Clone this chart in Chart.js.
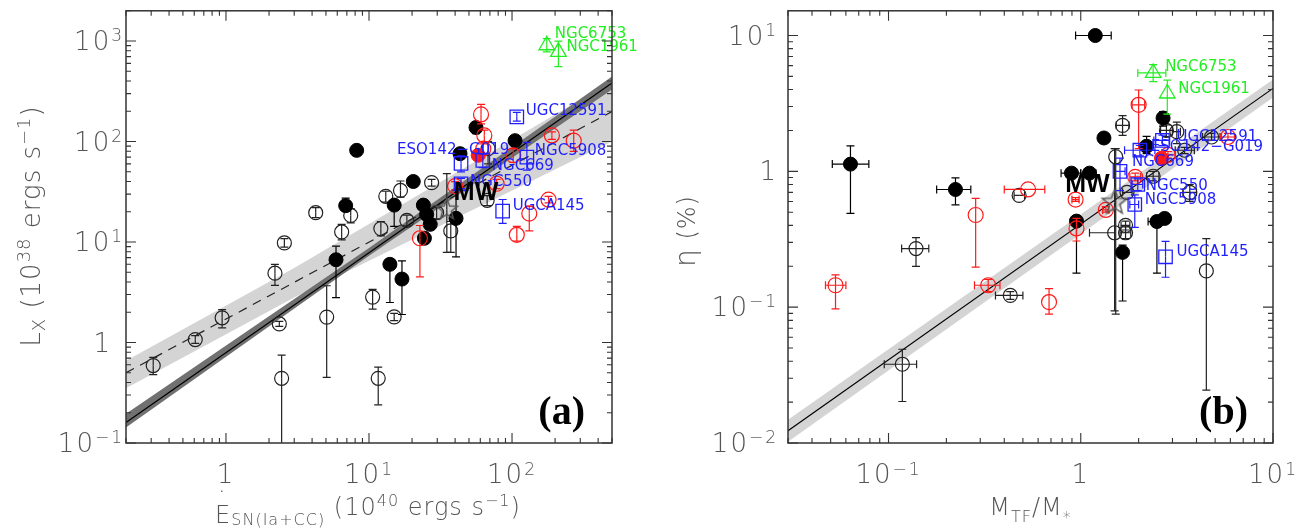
<!DOCTYPE html>
<html>
<head>
<meta charset="utf-8">
<script src="https://cdn.jsdelivr.net/npm/chart.js@4/dist/chart.umd.min.js"></script>
<style>
html, body { margin: 0; padding: 0; background: #fff; }
#wrap { width: 1307px; height: 529px; position: relative; overflow: hidden; }
canvas { position: absolute; top: 0; }
#ca { left: 0; }
#cb { left: 653px; }
</style>
</head>
<body>
<div id="wrap">
  <canvas id="ca" width="653" height="529"></canvas>
  <canvas id="cb" width="654" height="529"></canvas>
</div>
<script>
// ---------- panel (a): Lx vs E_SN ----------
// [x, y, yLow, yHigh]
const aOpen = [
  [0.31, 0.59, 0.48, 0.71], [0.61, 1.07, 0.98, 1.17], [0.94, 1.76, 1.40, 2.12],
  [2.2, 4.9, 3.7, 6.0], [2.36, 1.53, 1.45, 1.62], [2.45, 0.44, 0.05, 0.75],
  [2.56, 9.8, 8.9, 10.8], [4.24, 19.6, 17.5, 22], [5.06, 1.79, 0.45, 3.67],
  [6.44, 12.6, 10.5, 15], [7.45, 18.4, 15.5, 21.5], [10.6, 2.83, 2.15, 3.38],
  [11.6, 0.44, 0.24, 0.57], [12.1, 13.6, 11.5, 16], [13.1, 28.5, 25, 32],
  [15, 1.8, 1.65, 1.95], [16.6, 32.6, 28, 40.5], [18.4, 16.4, 14.5, 18.5],
  [27.4, 39, 36, 42], [29.7, 19.6, 17, 22], [37.3, 12.9, 7.9, 16],
  [67, 26, 23, 29], [68, 85, 60, 100]
];
const aFilled = [
  [5.88, 6.66, 2.8, 9.1], [6.87, 23, 23, 27.4], [8.2, 81.7, 81.7, 81.7],
  [14, 6, 2.5, 6], [15, 23.3, 14.3, 23.3], [17, 4.28, 1.9, 6.5],
  [20.4, 40, 40, 40], [24, 23.3, 23.3, 23.3], [25.3, 18.8, 18.8, 18.8],
  [26.8, 15, 15, 15], [24.4, 10.9, 10.9, 10.9], [40.6, 17.2, 7.1, 33],
  [43.3, 75.7, 75.7, 75.7], [56, 138, 120, 155], [105, 102, 102, 102]
];
const aRedOpen = [
  [22.7, 10.9, 4.5, 14.6], [40, 36, 33, 40], [60.7, 186, 150, 234],
  [63, 85, 75, 95], [64, 115, 100, 130], [78, 38, 34, 42],
  [102, 73, 62, 85], [108, 11.8, 10.2, 14.3], [132, 19.2, 12.9, 22.8],
  [180, 26.4, 24.5, 28.5], [190, 115, 105, 125], [270, 102, 80, 130]
];
const aRedFilled = [[58, 73, 73, 73]];
const blueNames = ["UGC12591", "ESO142\u2212G019", "NGC669", "NGC5908", "NGC550", "UGCA145"];
const aBlue = [
  [108, 176, 160, 195], [44, 60.5, 50, 72], [62.5, 65, 55, 75],
  [127, 70, 52, 98], [44, 38, 34, 43], [86, 20.3, 15.3, 26.5]
];
const greenNames = ["NGC6753", "NGC1961"];
const aGreen = [[175, 908, 780, 1055], [211, 780, 556, 1000]];
const aMW = [[35, 21, 7.9, 48]];
// fits
const aSolidX = [0.2, 500], aSolidY = [0.16, 382];
const aDarkX = [0.2, 10, 500], aDarkLo = [0.143, 7.3, 329], aDarkHi = [0.195, 8.7, 443];
const aDashX = [0.2, 500], aDashY = [0.5, 199];
const aLightX = [0.2, 3, 500], aLightLo = [0.35, 2.8, 100], aLightHi = [0.66, 5.5, 400];

// ---------- panel (b): eta vs M_TF/M_* ----------
// [x, y, xLow, xHigh, yLow, yHigh]
const bFilled = [
  [0.0634, 1.13, 0.051, 0.079, 0.49, 1.54], [0.223, 0.735, 0.178, 0.268, 0.567, 0.894],
  [0.895, 0.97, 0.79, 1.0, null, null], [0.95, 0.43, null, null, 0.178, 0.47],
  [1.11, 0.97, 1.0, 1.2, null, null], [1.19, 10, 0.94, 1.44, null, null],
  [1.32, 1.76, 1.25, 1.4, null, null], [1.65, 0.253, null, null, 0.111, 0.286],
  [2.2, 1.53, 2.05, 2.35, 1.35, 1.81], [2.49, 0.427, 2.24, 2.49, 0.178, 0.427],
  [2.68, 2.47, 2.55, 2.8, 2.15, 2.75], [2.73, 0.45, 2.6, 2.85, null, null]
];
const bOpen = [
  [0.118, 0.038, 0.095, 0.14, 0.0202, 0.049], [0.139, 0.27, 0.117, 0.162, 0.2, 0.325],
  [0.43, 0.122, 0.36, 0.5, 0.114, 0.13], [0.478, 0.665, 0.45, 0.51, null, null],
  [1.5, 0.353, 1.11, 1.5, null, null], [1.52, 1.28, null, null, 0.089, 1.47],
  [1.65, 2.18, 1.53, 1.78, 1.84, 2.57], [1.71, 0.353, 1.6, 1.82, 0.32, 0.39],
  [1.71, 0.4, 1.62, 1.8, 0.37, 0.43], [1.74, 0.7, 1.65, 1.85, null, null],
  [2.38, 0.92, 2.2, 2.55, 0.85, 1.0], [2.79, 2.0, 2.6, 3.0, 1.8, 2.2],
  [3.16, 1.96, 3.0, 3.3, 1.6, 2.3], [3.47, 1.43, 3.1, 3.9, 1.35, 1.5],
  [3.69, 0.7, 3.4, 4.0, 0.6, 0.8], [4.5, 0.185, null, null, 0.0245, 0.32],
  [4.79, 1.79, 4.3, 5.3, 1.7, 1.9]
];
const bRedOpen = [
  [0.053, 0.145, 0.047, 0.06, 0.097, 0.173], [0.284, 0.477, null, null, 0.197, 0.633],
  [0.33, 0.145, 0.28, 0.38, 0.13, 0.16], [0.532, 0.736, 0.40, 0.65, null, null],
  [0.684, 0.109, null, null, 0.089, 0.137], [0.94, 0.62, 0.9, 0.98, 0.6, 0.64],
  [0.95, 0.38, null, null, 0.307, 0.45], [1.35, 0.52, 1.3, 1.4, 0.5, 0.55],
  [1.92, 0.91, 1.8, 2.05, 0.85, 0.97], [2.0, 3.09, 1.85, 2.15, 1.47, 3.97],
  [2.84, 1.32, 2.6, 3.1, 1.25, 1.4], [5.83, 1.79, 5.4, 6.3, 1.7, 1.9]
];
const bRedFilled = [[2.63, 1.25, null, null, null, null]];
const bBlue = [
  [2.66, 1.69, 2.4, 2.9, 1.55, 1.85], [2.03, 1.43, 1.69, 2.43, 1.3, 1.55],
  [1.6, 1.0, 1.5, 1.7, 0.72, 1.25], [1.91, 0.57, 1.8, 2.0, 0.387, 0.67],
  [1.98, 0.8, 1.85, 2.1, 0.72, 0.88], [2.76, 0.235, null, null, 0.166, 0.305]
];
const bGreen = [[2.38, 5.3, 1.98, 2.77, 4.57, 6.1], [2.82, 3.74, null, null, 2.64, 4.7]];
const bMW = [[1.5, 0.59, null, null, 0.094, 1.47]];
const bFitX = [0.03, 10], bFitY = [0.0123, 4.08], bBandLo = [0.0102, 3.49], bBandHi = [0.0148, 4.74];

// label offsets (pixels from the marker)
const aTagOff = { "UGC12591": [9, -6], "ESO142\u2212G019": [-64, -13], "NGC669": [9, 6],
  "NGC5908": [8, -6], "NGC550": [9, -2], "UGCA145": [10, -5], "NGC6753": [8, -11], "NGC1961": [8, -5] };
const bTagOff = { "UGC12591": [14, -3], "ESO142\u2212G019": [11, -3], "NGC669": [12, -9],
  "NGC5908": [10, -4], "NGC550": [8, 2], "UGCA145": [11, -5], "NGC6753": [12, -6], "NGC1961": [11, -4] };

const FONT = '"DejaVu Sans", sans-serif';
Chart.defaults.font.family = FONT;

const toA = arr => arr.map(([x, y, yl, yh]) => ({ x, y, yl, yh }));
const toB = arr => arr.map(([x, y, xl, xh, yl, yh]) => ({ x, y, xl, xh, yl, yh }));
const line = (xs, ys) => xs.map((x, i) => ({ x, y: ys[i] }));

function starImg(r, color) {
  const c = document.createElement("canvas");
  c.width = c.height = 2 * r + 4;
  const g = c.getContext("2d");
  g.translate(r + 2, r + 2);
  g.beginPath();
  for (let i = 0; i < 10; i++) {
    const a = -Math.PI / 2 + i * Math.PI / 5;
    const rr = i % 2 ? r * 0.42 : r;
    g.lineTo(rr * Math.cos(a), rr * Math.sin(a));
  }
  g.closePath();
  g.strokeStyle = color;
  g.lineWidth = 1.4;
  g.stroke();
  return c;
}

// rich text: parts = [{t, s, dy, dot}]
function P(t, s, dy, extra) { return Object.assign({ t, s, dy: dy || 0 }, extra || {}); }
function richDraw(ctx, parts, x, y, align) {
  const ws = [];
  let w = 0;
  for (const p of parts) {
    ctx.font = "200 " + p.s + "px " + FONT;
    const m = ctx.measureText(p.t).width;
    ws.push(m);
    w += m;
  }
  let cx = align === "center" ? x - w / 2 : align === "right" ? x - w : x;
  ctx.textAlign = "left";
  ctx.textBaseline = "alphabetic";
  parts.forEach((p, i) => {
    ctx.font = "200 " + p.s + "px " + FONT;
    ctx.fillText(p.t, cx, y + p.dy);
    if (p.dot) {
      const dw = ctx.measureText(".").width;
      ctx.fillText(".", cx + ws[i] / 2 - dw / 2 - 1, y + p.dy - 31);
    }
    cx += ws[i];
  });
}

function powLabel(e) {
  if (e === 0) return [P("1", 26, 0)];
  return [P("10", 26, 0), P(String(e).replace("-", "\u2212"), 17, -9)];
}

const errorBars = {
  id: "errorBars",
  beforeDatasetDraw(chart, args) {
    const ds = chart.data.datasets[args.index];
    if (!ds.errColor) return;
    const xs = chart.scales.x, ys = chart.scales.y, ctx = chart.ctx, a = chart.chartArea;
    ctx.save();
    ctx.beginPath();
    ctx.rect(a.left, a.top, a.right - a.left, a.bottom - a.top);
    ctx.clip();
    ctx.strokeStyle = ds.errColor;
    ctx.lineWidth = 1.2;
    const seg = (x1, y1, x2, y2) => { ctx.beginPath(); ctx.moveTo(x1, y1); ctx.lineTo(x2, y2); ctx.stroke(); };
    for (const p of ds.data) {
      const px = xs.getPixelForValue(p.x), py = ys.getPixelForValue(p.y);
      if (p.yl != null && p.yl < p.y) { const q = ys.getPixelForValue(p.yl); seg(px, py, px, q); seg(px - 4, q, px + 4, q); }
      if (p.yh != null && p.yh > p.y) { const q = ys.getPixelForValue(p.yh); seg(px, py, px, q); seg(px - 4, q, px + 4, q); }
      if (p.xl != null && p.xl < p.x) { const q = xs.getPixelForValue(p.xl); seg(px, py, q, py); seg(q, py - 4, q, py + 4); }
      if (p.xh != null && p.xh > p.x) { const q = xs.getPixelForValue(p.xh); seg(px, py, q, py); seg(q, py - 4, q, py + 4); }
    }
    ctx.restore();
  }
};

function makeDecor(cfg) {
  return {
    id: "decor",
    afterDraw(chart) {
      const ctx = chart.ctx, a = chart.chartArea, xs = chart.scales.x, ys = chart.scales.y;
      ctx.save();
      // frame
      ctx.strokeStyle = "#333";
      ctx.lineWidth = 1.5;
      ctx.strokeRect(a.left, a.top, a.right - a.left, a.bottom - a.top);
      ctx.lineWidth = 1.1;
      const ticks = (min, max) => {
        const out = [];
        for (let e = Math.floor(Math.log10(min)); e <= Math.ceil(Math.log10(max)); e++) {
          for (let m = 1; m < 10; m++) {
            const v = m * Math.pow(10, e);
            if (v >= min * 0.999 && v <= max * 1.001) out.push([v, m === 1, e]);
          }
        }
        return out;
      };
      ctx.beginPath();
      for (const [v, major] of ticks(xs.min, xs.max)) {
        const px = xs.getPixelForValue(v), L = major ? 10 : 5;
        ctx.moveTo(px, a.bottom); ctx.lineTo(px, a.bottom - L);
        ctx.moveTo(px, a.top); ctx.lineTo(px, a.top + L);
      }
      for (const [v, major] of ticks(ys.min, ys.max)) {
        const py = ys.getPixelForValue(v), L = major ? 10 : 5;
        ctx.moveTo(a.left, py); ctx.lineTo(a.left + L, py);
        ctx.moveTo(a.right, py); ctx.lineTo(a.right - L, py);
      }
      ctx.stroke();
      // tick labels
      ctx.fillStyle = "#555";
      ctx.letterSpacing = "2px";
      for (const [v, major, e] of ticks(xs.min, xs.max)) {
        if (!major) continue;
        const parts = powLabel(e);
        if (parts.length > 1) parts[1].dy = -8;
        richDraw(ctx, parts, xs.getPixelForValue(v), a.bottom + 40, "center");
      }
      for (const [v, major, e] of ticks(ys.min, ys.max)) {
        if (!major) continue;
        const shift = e === 0 ? cfg.oneShift : 0;
        richDraw(ctx, powLabel(e), a.left - cfg.yGap - shift, ys.getPixelForValue(v) + 9, "right");
      }
      ctx.letterSpacing = "1px";
      // axis titles
      richDraw(ctx, cfg.xTitle, cfg.xTitlePos[0], cfg.xTitlePos[1], "center");
      ctx.save();
      ctx.translate(cfg.yTitlePos[0], cfg.yTitlePos[1]);
      ctx.rotate(-Math.PI / 2);
      richDraw(ctx, cfg.yTitle, 0, 0, "center");
      ctx.restore();
      ctx.letterSpacing = "0px";
      // panel tag
      ctx.fillStyle = "#000";
      ctx.font = 'bold 40px "Liberation Serif", serif';
      ctx.textAlign = "right";
      ctx.textBaseline = "alphabetic";
      ctx.fillText(cfg.tag, a.right - cfg.tagRight, 424);
      ctx.restore();
    },
    afterDatasetsDraw(chart) {
      const ctx = chart.ctx;
      ctx.save();
      ctx.textBaseline = "middle";
      chart.data.datasets.forEach((ds, di) => {
        if (!ds.names) return;
        const meta = chart.getDatasetMeta(di);
        ds.names.forEach((n, i) => {
          const el = meta.data[i];
          const off = cfg.tagOff[n] || [10, 0];
          ctx.font = ds.tagFont || "15px " + FONT;
          ctx.fillStyle = ds.tagColor;
          ctx.textAlign = off[2] || "left";
          ctx.fillText(n, el.x + off[0], el.y + off[1]);
        });
      });
      ctx.restore();
    }
  };
}

function band(xs, lo, hi, color, order) {
  return [
    { type: "line", data: line(xs, lo), borderWidth: 0, pointRadius: 0, fill: false, order },
    { type: "line", data: line(xs, hi), borderWidth: 0, pointRadius: 0, fill: "-1", backgroundColor: color, order: order - 1 }
  ];
}

function scatterSets(s) {
  const open = { pointStyle: "circle", pointRadius: 7, borderWidth: 1.2, backgroundColor: "rgba(0,0,0,0)" };
  return [
    Object.assign({ data: s.open, borderColor: "#222", errColor: "#222", order: 6 }, open),
    { data: s.filled, pointStyle: "circle", pointRadius: 7, borderColor: "#000", backgroundColor: "#000", errColor: "#000", order: 5 },
    Object.assign({ data: s.red, borderColor: "#ff1a1a", errColor: "#ff1a1a", order: 4 }, open, { pointRadius: 7.5 }),
    { data: s.redF, pointStyle: "circle", pointRadius: 7, borderColor: "#ff1a1a", backgroundColor: "#ff1a1a", errColor: "#ff1a1a", order: 4 },
    { data: s.blue, pointStyle: "rect", pointRadius: 9.5, borderWidth: 1.3, borderColor: "#1f1fff", backgroundColor: "rgba(0,0,0,0)",
      errColor: "#1f1fff", names: blueNames, tagColor: "#1f1fff", order: 3 },
    { data: s.green, pointStyle: "triangle", pointRadius: 9, borderWidth: 1.3, borderColor: "#22ee22", backgroundColor: "rgba(0,0,0,0)",
      errColor: "#22ee22", names: greenNames, tagColor: "#22ee22", order: 2 },
    { data: s.mw, pointStyle: starImg(s.starR, "#555"), errColor: "#222", names: ["MW"], tagColor: "#000",
      tagFont: 'bold 25px "Liberation Sans", sans-serif', order: 1 }
  ];
}

function makeChart(id, cfg) {
  return new Chart(document.getElementById(id), {
    type: "scatter",
    data: { datasets: cfg.datasets },
    options: {
      responsive: false,
      animation: false,
      devicePixelRatio: 1,
      layout: { padding: { top: 5, right: cfg.padRight, bottom: 0, left: 0 } },
      plugins: { legend: { display: false }, tooltip: { enabled: false } },
      scales: {
        x: { type: "logarithmic", min: cfg.xRange[0], max: cfg.xRange[1], grid: { display: false },
             border: { display: false }, ticks: { display: false }, afterFit(s) { s.height = 86; } },
        y: { type: "logarithmic", min: cfg.yRange[0], max: cfg.yRange[1], grid: { display: false },
             border: { display: false }, ticks: { display: false }, afterFit(s) { s.width = cfg.leftW; } }
      }
    },
    plugins: [errorBars, makeDecor(cfg)]
  });
}

// panel (a)
makeChart("ca", {
  xRange: [0.2, 500], yRange: [0.1, 2000], leftW: 126, padRight: 41,
  yGap: 2, oneShift: 12, tag: "(a)", tagRight: 27,
  tagOff: Object.assign({ "MW": [7, -17] }, aTagOff),
  xTitle: [P("E", 24, 8, { dot: true }), P("SN(Ia+CC)", 16, 10), P(" (10", 24, 0), P("40", 16, -9),
           P(" ergs s", 24, 0), P("\u22121", 16, -9), P(")", 24, 0)],
  xTitlePos: [368, 515],
  yTitle: [P("L", 26, 0), P("X", 18, 5), P(" (10", 26, 0), P("38", 18, -10), P(" ergs s", 26, 0),
           P("\u22121", 18, -10), P(")", 26, 0)],
  yTitlePos: [40, 226],
  datasets: [
    ...band(aLightX, aLightLo, aLightHi, "#d4d4d4", 30),
    ...band(aDarkX, aDarkLo, aDarkHi, "#717171", 28),
    { type: "line", data: line(aDashX, aDashY), borderColor: "#222", borderWidth: 1.2, borderDash: [9, 7], pointRadius: 0, fill: false, order: 20 },
    { type: "line", data: line(aSolidX, aSolidY), borderColor: "#000", borderWidth: 1.3, pointRadius: 0, fill: false, order: 19 },
    ...scatterSets({ open: toA(aOpen), filled: toA(aFilled), red: toA(aRedOpen), redF: toA(aRedFilled),
                     blue: toA(aBlue), green: toA(aGreen), mw: toA(aMW), starR: 11 })
  ]
});

// panel (b)
makeChart("cb", {
  xRange: [0.03, 10], yRange: [0.01, 15.2], leftW: 135, padRight: 34,
  yGap: 10, oneShift: 0, tag: "(b)", tagRight: 25,
  tagOff: Object.assign({ "MW": [-5, -17, "right"] }, bTagOff),
  xTitle: [P("M", 24, 0), P("TF", 16, 7), P("/", 24, 0), P("M", 24, 0), P("*", 16, 8)],
  xTitlePos: [377.5, 515],
  yTitle: [P("\u03b7", 28, 0), P(" (%)", 24, 0)],
  yTitlePos: [42, 231],
  datasets: [
    ...band(bFitX, bBandLo, bBandHi, "#d4d4d4", 30),
    { type: "line", data: line(bFitX, bFitY), borderColor: "#000", borderWidth: 1.2, pointRadius: 0, fill: false, order: 19 },
    ...scatterSets({ open: toB(bOpen), filled: toB(bFilled), red: toB(bRedOpen), redF: toB(bRedFilled),
                     blue: toB(bBlue), green: toB(bGreen), mw: toB(bMW), starR: 13 })
  ]
});
</script>
</body>
</html>
